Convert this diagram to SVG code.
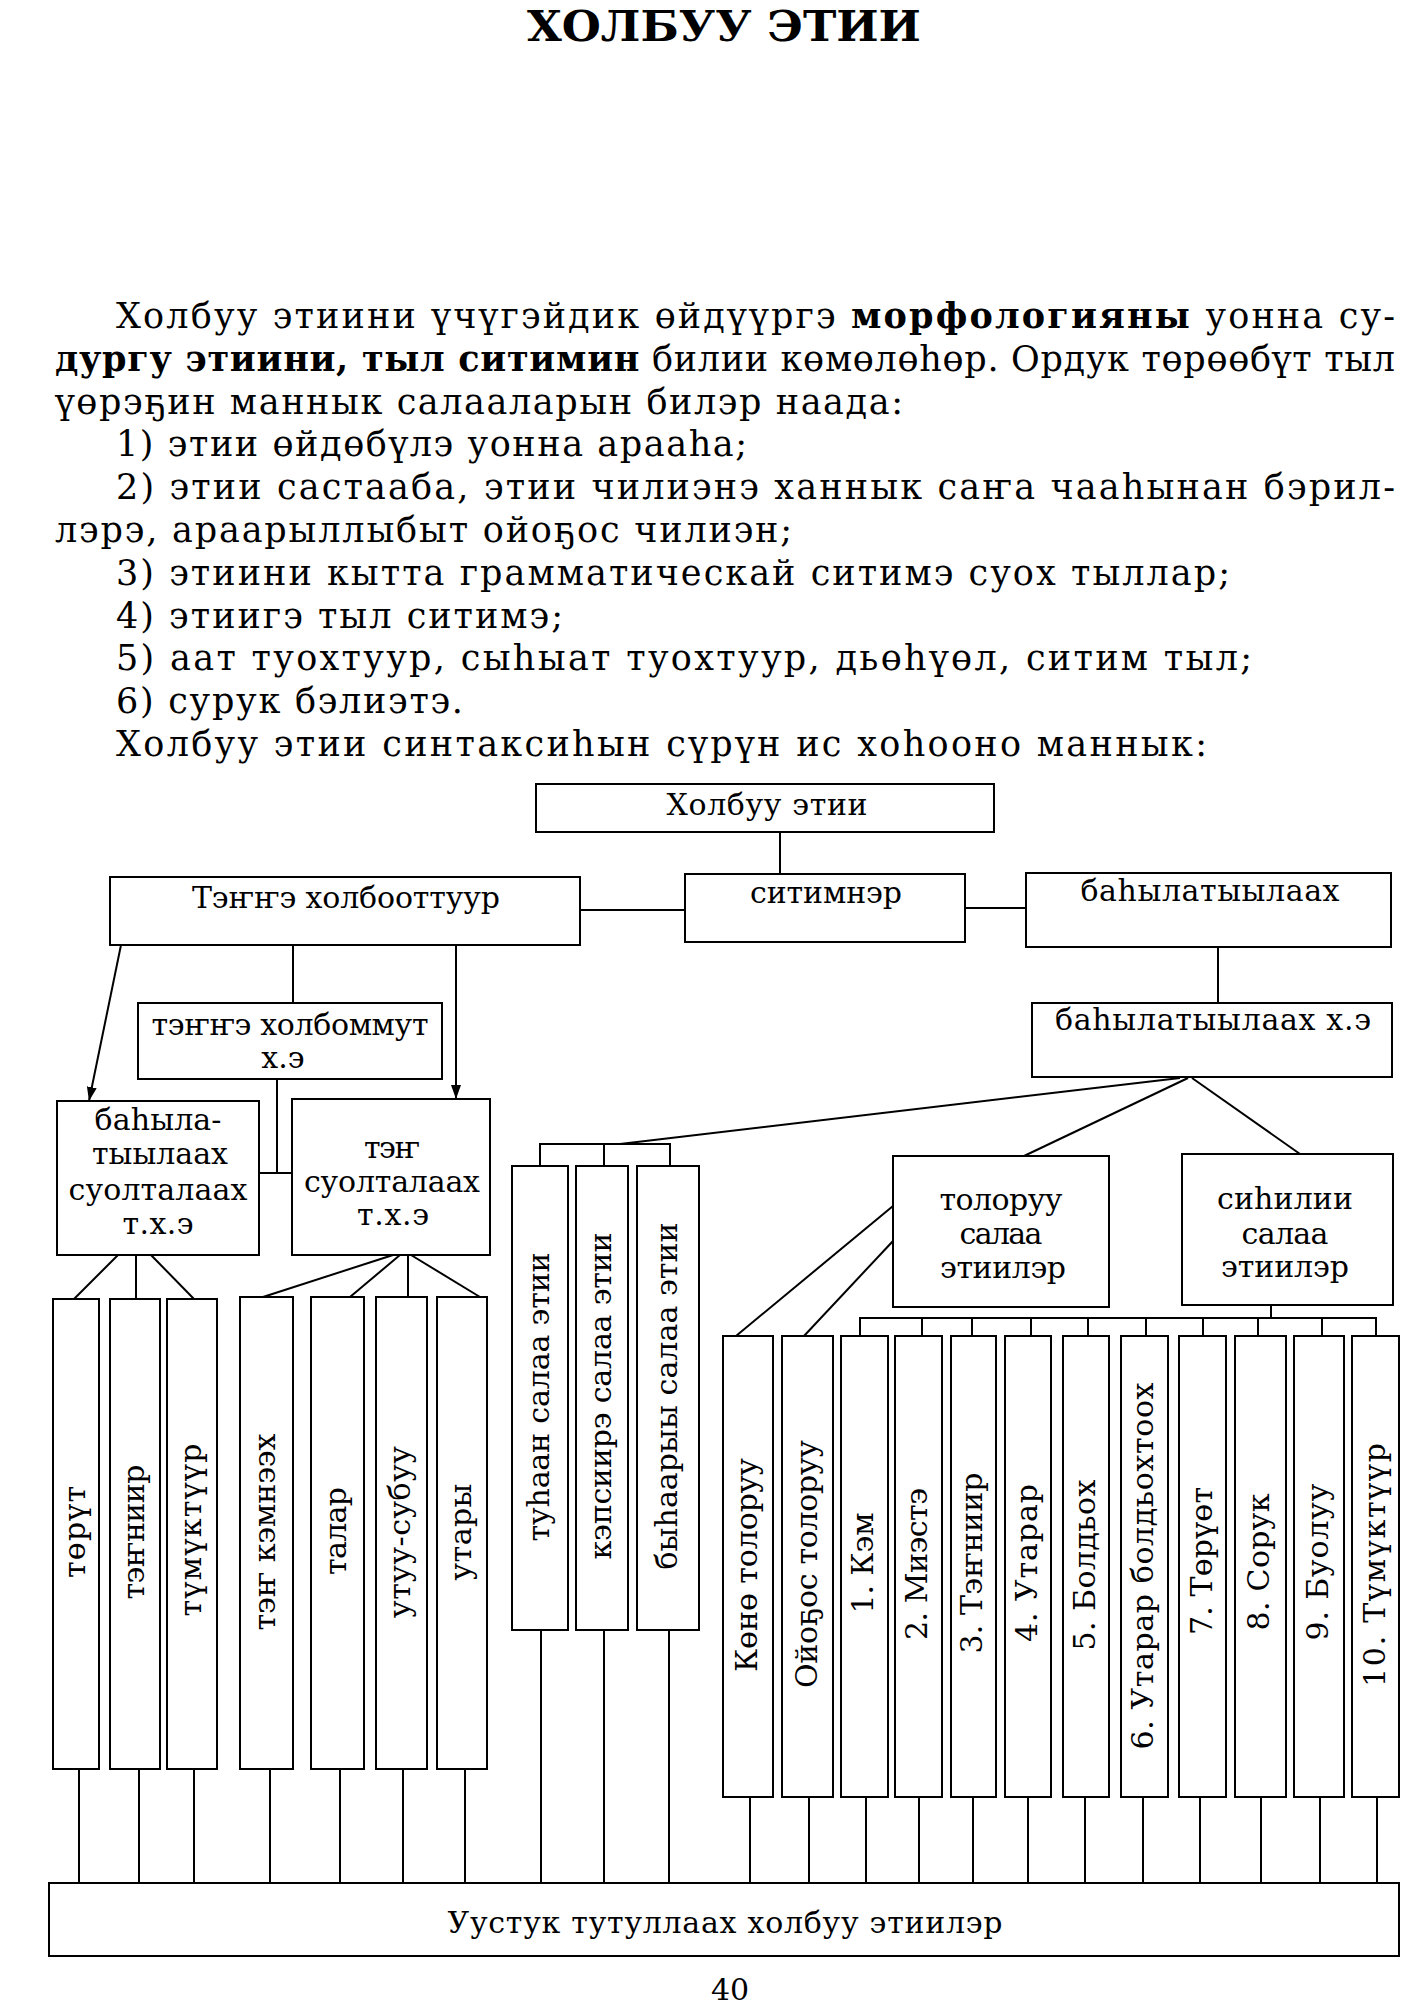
<svg xmlns="http://www.w3.org/2000/svg" width="1402" height="2006" viewBox="0 0 1402 2006">
<style>
.bg{fill:#fff}
.box{fill:#fff;stroke:#000;stroke-width:2}
.ln{stroke:#000;stroke-width:2;fill:none}
.t{font-family:'DejaVu Serif','Liberation Serif',serif;font-size:30px;fill:#000}
.c{text-anchor:middle}
.p{font-family:'DejaVu Serif','Liberation Serif',serif;font-size:35px;fill:#000}
.b{font-weight:bold}
.ttl{font-family:'DejaVu Serif','Liberation Serif',serif;font-size:42px;font-weight:bold;fill:#000;text-anchor:middle}
</style>
<defs>
<marker id="arr" viewBox="0 0 14 10" refX="14" refY="5" markerWidth="14" markerHeight="10" markerUnits="userSpaceOnUse" orient="auto"><path d="M0,0 L14,5 L0,10 z" fill="#000"/></marker>
</defs>
<rect class="bg" x="0" y="0" width="1402" height="2006"/>

<g id="page-text">
<text class="ttl" x="724" y="41" textLength="394" lengthAdjust="spacingAndGlyphs">ХОЛБУУ ЭТИИ</text>
<text class="p" x="116" y="328" textLength="1279">Холбуу этиини үчүгэйдик өйдүүргэ <tspan class="b">морфологияны</tspan> уонна су-</text>
<text class="p" x="55" y="371" textLength="1340"><tspan class="b">дургу этиини, тыл ситимин</tspan> билии көмөлөһөр. Ордук төрөөбүт тыл</text>
<text class="p" x="55" y="414" textLength="848">үөрэҕин маннык салааларын билэр наада:</text>
<text class="p" x="116" y="456" textLength="631">1) этии өйдөбүлэ уонна арааһа;</text>
<text class="p" x="116" y="499" textLength="1279">2) этии састааба, этии чилиэнэ ханнык саҥа чааһынан бэрил-</text>
<text class="p" x="55" y="542" textLength="737">лэрэ, араарыллыбыт ойоҕос чилиэн;</text>
<text class="p" x="116" y="585" textLength="1114">3) этиини кытта грамматическай ситимэ суох тыллар;</text>
<text class="p" x="116" y="628" textLength="447">4) этиигэ тыл ситимэ;</text>
<text class="p" x="116" y="670" textLength="1136">5) аат туохтуур, сыһыат туохтуур, дьөһүөл, ситим тыл;</text>
<text class="p" x="116" y="713" textLength="347">6) сурук бэлиэтэ.</text>
<text class="p" x="116" y="756" textLength="1091">Холбуу этии синтаксиһын сүрүн ис хоһооно маннык:</text>
<text class="t c" x="730" y="2000" font-size="28">40</text>
</g>

<g id="connectors">
<line class="ln" x1="780" y1="832" x2="780" y2="874"/>
<line class="ln" x1="580" y1="910" x2="685" y2="910"/>
<line class="ln" x1="965" y1="908" x2="1026" y2="908"/>
<line class="ln" x1="1218" y1="947" x2="1218" y2="1003"/>
<line class="ln" x1="121" y1="945" x2="89" y2="1101" marker-end="url(#arr)"/>
<line class="ln" x1="293" y1="945" x2="293" y2="1003"/>
<line class="ln" x1="456" y1="945" x2="456" y2="1099" marker-end="url(#arr)"/>
<polyline class="ln" points="277,1079 277,1173"/>
<line class="ln" x1="259" y1="1173" x2="292" y2="1173"/>
<line class="ln" x1="118" y1="1255" x2="74" y2="1299"/>
<line class="ln" x1="136" y1="1255" x2="136" y2="1299"/>
<line class="ln" x1="151" y1="1255" x2="194" y2="1299"/>
<line class="ln" x1="393" y1="1255" x2="263" y2="1297"/>
<line class="ln" x1="400" y1="1255" x2="350" y2="1297"/>
<line class="ln" x1="408" y1="1255" x2="408" y2="1297"/>
<line class="ln" x1="411" y1="1255" x2="480" y2="1297"/>
<line class="ln" x1="1180" y1="1078" x2="620" y2="1144"/>
<polyline class="ln" points="540,1166 540,1144 670,1144 670,1166"/>
<line class="ln" x1="604" y1="1144" x2="604" y2="1166"/>
<line class="ln" x1="1188" y1="1078" x2="1024" y2="1156"/>
<line class="ln" x1="1192" y1="1078" x2="1300" y2="1154"/>
<line class="ln" x1="893" y1="1206" x2="736" y2="1336"/>
<line class="ln" x1="893" y1="1241" x2="804" y2="1336"/>
<line class="ln" x1="1271" y1="1305" x2="1271" y2="1318"/>
<polyline class="ln" points="860,1336 860,1318 1376,1318 1376,1336"/>
<line class="ln" x1="922" y1="1318" x2="922" y2="1336"/>
<line class="ln" x1="972" y1="1318" x2="972" y2="1336"/>
<line class="ln" x1="1031" y1="1318" x2="1031" y2="1336"/>
<line class="ln" x1="1088" y1="1318" x2="1088" y2="1336"/>
<line class="ln" x1="1146" y1="1318" x2="1146" y2="1336"/>
<line class="ln" x1="1203" y1="1318" x2="1203" y2="1336"/>
<line class="ln" x1="1258" y1="1318" x2="1258" y2="1336"/>
<line class="ln" x1="1322" y1="1318" x2="1322" y2="1336"/>
<line class="ln" x1="79" y1="1769" x2="79" y2="1883"/>
<line class="ln" x1="139" y1="1769" x2="139" y2="1883"/>
<line class="ln" x1="194" y1="1769" x2="194" y2="1883"/>
<line class="ln" x1="270" y1="1769" x2="270" y2="1883"/>
<line class="ln" x1="340" y1="1769" x2="340" y2="1883"/>
<line class="ln" x1="403" y1="1769" x2="403" y2="1883"/>
<line class="ln" x1="465" y1="1769" x2="465" y2="1883"/>
<line class="ln" x1="541" y1="1630" x2="541" y2="1883"/>
<line class="ln" x1="604" y1="1630" x2="604" y2="1883"/>
<line class="ln" x1="669" y1="1630" x2="669" y2="1883"/>
<line class="ln" x1="750" y1="1797" x2="750" y2="1883"/>
<line class="ln" x1="809" y1="1797" x2="809" y2="1883"/>
<line class="ln" x1="866" y1="1797" x2="866" y2="1883"/>
<line class="ln" x1="919" y1="1797" x2="919" y2="1883"/>
<line class="ln" x1="973" y1="1797" x2="973" y2="1883"/>
<line class="ln" x1="1028" y1="1797" x2="1028" y2="1883"/>
<line class="ln" x1="1085" y1="1797" x2="1085" y2="1883"/>
<line class="ln" x1="1143" y1="1797" x2="1143" y2="1883"/>
<line class="ln" x1="1200" y1="1797" x2="1200" y2="1883"/>
<line class="ln" x1="1261" y1="1797" x2="1261" y2="1883"/>
<line class="ln" x1="1320" y1="1797" x2="1320" y2="1883"/>
<line class="ln" x1="1377" y1="1797" x2="1377" y2="1883"/>
</g>

<g id="n-holbuu-etii"><rect class="box" x="536" y="784" width="458" height="48"/><text class="t c" x="767" y="815" textLength="201">Холбуу этии</text></g>
<g id="n-tenne-holboottuur"><rect class="box" x="110" y="877" width="470" height="68"/><text class="t c" x="346" y="908" textLength="308">Тэҥҥэ холбооттуур</text></g>
<g id="n-sitimner"><rect class="box" x="685" y="874" width="280" height="68"/><text class="t c" x="826" y="903" textLength="152">ситимнэр</text></g>
<g id="n-bahylatyylaah"><rect class="box" x="1026" y="873" width="365" height="74"/><text class="t c" x="1210" y="901" textLength="259">баһылатыылаах</text></g>
<g id="n-bahylatyylaah-he"><rect class="box" x="1032" y="1003" width="360" height="74"/><text class="t c" x="1213" y="1030" textLength="316">баһылатыылаах х.э</text></g>
<g id="n-tenne-holbommut"><rect class="box" x="138" y="1003" width="304" height="76"/><text class="t c" x="290" y="1035" textLength="277">тэҥҥэ холбоммут</text><text class="t c" x="283" y="1068">х.э</text></g>
<g id="n-bahyla-suoltalaah"><rect class="box" x="57" y="1101" width="202" height="154"/>
<text class="t c" x="158" y="1130" textLength="127">баһыла-</text>
<text class="t c" x="160" y="1164" textLength="136">тыылаах</text>
<text class="t c" x="158" y="1200" textLength="179">суолталаах</text>
<text class="t c" x="158" y="1234" textLength="71">т.х.э</text></g>
<g id="n-ten-suoltalaah"><rect class="box" x="292" y="1099" width="198" height="156"/>
<text class="t c" x="392" y="1158" textLength="56">тэҥ</text>
<text class="t c" x="392" y="1192" textLength="176">суолталаах</text>
<text class="t c" x="393" y="1225" textLength="72">т.х.э</text></g>
<g id="n-toloruu-salaa"><rect class="box" x="893" y="1156" width="216" height="151"/>
<text class="t c" x="1001" y="1210" textLength="123">толоруу</text>
<text class="t c" x="1001" y="1244" textLength="83">салаа</text>
<text class="t c" x="1003" y="1278" textLength="126">этиилэр</text></g>
<g id="n-sihilii-salaa"><rect class="box" x="1182" y="1154" width="211" height="151"/>
<text class="t c" x="1285" y="1209" textLength="136">сиһилии</text>
<text class="t c" x="1285" y="1244" textLength="87">салаа</text>
<text class="t c" x="1285" y="1277" textLength="128">этиилэр</text></g>

<g id="n-torut"><rect class="box" x="53" y="1299" width="46" height="470"/><text class="t c" transform="translate(76,1532) rotate(-90)" y="9" textLength="92">төрүт</text></g>
<g id="n-tenniir"><rect class="box" x="110" y="1299" width="50" height="470"/><text class="t c" transform="translate(135,1532) rotate(-90)" y="9" textLength="135">тэҥниир</text></g>
<g id="n-tumuktuur"><rect class="box" x="167" y="1299" width="50" height="470"/><text class="t c" transform="translate(192,1530) rotate(-90)" y="9" textLength="173">түмүктүүр</text></g>
<g id="n-ten-kemneeh"><rect class="box" x="240" y="1297" width="53" height="472"/><text class="t c" transform="translate(266,1532) rotate(-90)" y="9" textLength="197">тэҥ кэмнээх</text></g>
<g id="n-talar"><rect class="box" x="311" y="1297" width="53" height="472"/><text class="t c" transform="translate(337,1531) rotate(-90)" y="9" textLength="88">талар</text></g>
<g id="n-utuu-subuu"><rect class="box" x="376" y="1297" width="51" height="472"/><text class="t c" transform="translate(401,1532) rotate(-90)" y="9" textLength="172">утуу-субуу</text></g>
<g id="n-utary"><rect class="box" x="437" y="1297" width="50" height="472"/><text class="t c" transform="translate(462,1532) rotate(-90)" y="9" textLength="97">утары</text></g>

<g id="n-tuhaan"><rect class="box" x="512" y="1166" width="56" height="464"/><text class="t c" transform="translate(540,1397) rotate(-90)" y="9" textLength="289">туһаан салаа этии</text></g>
<g id="n-kepsiire"><rect class="box" x="576" y="1166" width="52" height="464"/><text class="t c" transform="translate(602,1396) rotate(-90)" y="9" textLength="327">кэпсиирэ салаа этии</text></g>
<g id="n-byhaaryy"><rect class="box" x="637" y="1166" width="62" height="464"/><text class="t c" transform="translate(668,1396) rotate(-90)" y="9" textLength="347">быһаарыы салаа этии</text></g>

<g id="n-kono"><rect class="box" x="723" y="1336" width="50" height="461"/><text class="t c" transform="translate(748,1565) rotate(-90)" y="9" textLength="214">Көнө толоруу</text></g>
<g id="n-oyogos"><rect class="box" x="782" y="1336" width="51" height="461"/><text class="t c" transform="translate(808,1564) rotate(-90)" y="9" textLength="248">Ойоҕос толоруу</text></g>
<g id="n-1"><rect class="box" x="841" y="1336" width="47" height="461"/><text class="t c" transform="translate(864,1563) rotate(-90)" y="9" textLength="101">1. Кэм</text></g>
<g id="n-2"><rect class="box" x="895" y="1336" width="47" height="461"/><text class="t c" transform="translate(918,1564) rotate(-90)" y="9" textLength="152">2. Миэстэ</text></g>
<g id="n-3"><rect class="box" x="951" y="1336" width="45" height="461"/><text class="t c" transform="translate(973,1563) rotate(-90)" y="9" textLength="181">3. Тэҥниир</text></g>
<g id="n-4"><rect class="box" x="1005" y="1336" width="46" height="461"/><text class="t c" transform="translate(1028,1563) rotate(-90)" y="9" textLength="158">4. Утарар</text></g>
<g id="n-5"><rect class="box" x="1063" y="1336" width="46" height="461"/><text class="t c" transform="translate(1086,1565) rotate(-90)" y="9" textLength="171">5. Болдьох</text></g>
<g id="n-6"><rect class="box" x="1121" y="1336" width="47" height="461"/><text class="t c" transform="translate(1144,1566) rotate(-90)" y="9" textLength="367">6. Утарар болдьохтоох</text></g>
<g id="n-7"><rect class="box" x="1179" y="1336" width="47" height="461"/><text class="t c" transform="translate(1203,1561) rotate(-90)" y="9" textLength="148">7. Төрүөт</text></g>
<g id="n-8"><rect class="box" x="1235" y="1336" width="51" height="461"/><text class="t c" transform="translate(1260,1562) rotate(-90)" y="9" textLength="137">8. Сорук</text></g>
<g id="n-9"><rect class="box" x="1294" y="1336" width="50" height="461"/><text class="t c" transform="translate(1319,1562) rotate(-90)" y="9" textLength="157">9. Буолуу</text></g>
<g id="n-10"><rect class="box" x="1352" y="1336" width="47" height="461"/><text class="t c" transform="translate(1376,1565) rotate(-90)" y="9" textLength="244">10. Түмүктүүр</text></g>

<g id="n-uustuk"><rect class="box" x="49" y="1883" width="1350" height="73"/><text class="t c" x="725" y="1933" textLength="555">Уустук тутуллаах холбуу этиилэр</text></g>
</svg>
